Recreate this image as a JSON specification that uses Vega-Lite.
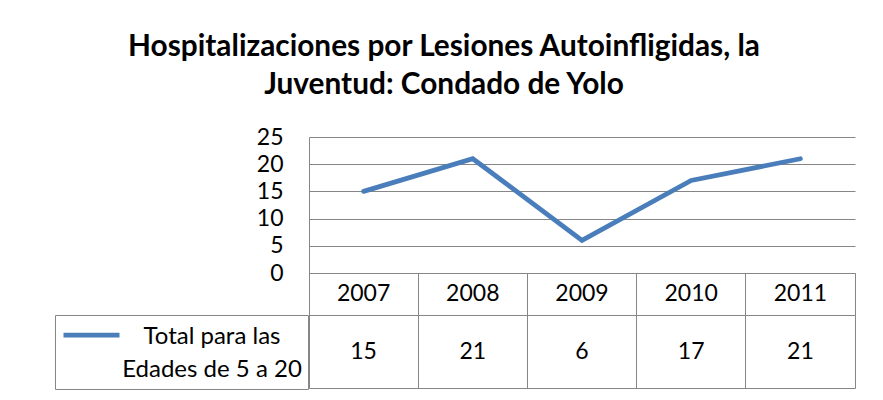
{
  "$schema": "https://vega.github.io/schema/vega-lite/v6.json",
  "autosize": {"type": "pad"},
  "padding": {"left": 54, "top": 32, "right": 29, "bottom": 11},
  "background": "white",
  "title": {
    "text": ["Hospitalizaciones por Lesiones Autoinfligidas, la", "Juventud: Condado de Yolo"],
    "font": "Lato",
    "fontSize": 29.8,
    "fontWeight": "bold",
    "color": "black",
    "lineHeight": 38,
    "anchor": "middle",
    "dx": -11,
    "offset": 26
  },
  "datasets": {
    "d": [
      {"anio": "2007", "valor": 15, "serie": "Total para las Edades de 5 a 20"},
      {"anio": "2008", "valor": 21, "serie": "Total para las Edades de 5 a 20"},
      {"anio": "2009", "valor": 6, "serie": "Total para las Edades de 5 a 20"},
      {"anio": "2010", "valor": 17, "serie": "Total para las Edades de 5 a 20"},
      {"anio": "2011", "valor": 21, "serie": "Total para las Edades de 5 a 20"}
    ]
  },
  "spacing": 0,
  "bounds": "flush",
  "vconcat": [
    {
      "width": 546,
      "height": 136,
      "view": {"stroke": null},
      "data": {"name": "d"},
      "mark": {"type": "line", "strokeWidth": 4.8, "strokeCap": "round"},
      "encoding": {
        "x": {"field": "anio", "type": "ordinal", "axis": null, "scale": {"type": "point", "padding": 0.5}},
        "y": {
          "field": "valor",
          "type": "quantitative",
          "scale": {"domain": [0, 25], "nice": false, "zero": true},
          "axis": {
            "values": [0, 5, 10, 15, 20, 25],
            "title": null,
            "grid": true,
            "gridColor": "#868686",
            "gridOpacity": 1,
            "domain": true,
            "domainColor": "#868686",
            "ticks": false,
            "tickSize": 0,
            "labelPadding": 26,
            "labelFont": "Lato",
            "labelFontSize": 23,
            "labelColor": "black"
          }
        },
        "color": {
          "field": "serie",
          "type": "nominal",
          "scale": {"range": ["#4A7EBB"]},
          "legend": {
            "orient": "none",
            "legendX": -254,
            "legendY": 178,
            "title": null,
            "padding": 6,
            "strokeColor": "#868686",
            "fillColor": "white",
            "symbolType": "M-1,-0.6L1,-0.6",
            "symbolSize": 3136,
            "symbolStrokeWidth": 4.8,
            "symbolOffset": 0,
            "clipHeight": 62,
            "labelFont": "Lato",
            "labelFontSize": 24,
            "labelColor": "black",
            "labelAlign": "center",
            "labelOffset": 90,
            "labelLimit": 400,
            "labelExpr": "['Total para las', 'Edades de 5 a 20']",
            "encode": {
              "legend": {"update": {"stroke": {"value": "#868686"}, "strokeWidth": {"value": 1}}},
              "labels": {"update": {"lineHeight": {"value": 33}, "dy": {"value": -15}}}
            }
          }
        }
      }
    },
    {
      "width": 546,
      "height": 42,
      "data": {"name": "d"},
      "mark": {"type": "text", "font": "Lato", "fontSize": 23, "color": "black"},
      "encoding": {
        "x": {
          "field": "anio",
          "type": "ordinal",
          "scale": {"type": "band", "paddingInner": 0, "paddingOuter": 0},
          "axis": {"grid": true, "bandPosition": 0, "gridColor": "#868686", "gridOpacity": 1, "labels": false, "ticks": false, "domain": false, "title": null}
        },
        "text": {"field": "anio"}
      }
    },
    {
      "width": 546,
      "height": 73,
      "data": {"name": "d"},
      "mark": {"type": "text", "font": "Lato", "fontSize": 23, "color": "black"},
      "encoding": {
        "x": {
          "field": "anio",
          "type": "ordinal",
          "scale": {"type": "band", "paddingInner": 0, "paddingOuter": 0},
          "axis": {"grid": true, "bandPosition": 0, "gridColor": "#868686", "gridOpacity": 1, "labels": false, "ticks": false, "domain": false, "title": null}
        },
        "text": {"field": "valor"}
      }
    }
  ],
  "config": {
    "view": {"stroke": "#868686", "strokeWidth": 1},
    "legend": {"strokeColor": "#868686"}
  }
}
